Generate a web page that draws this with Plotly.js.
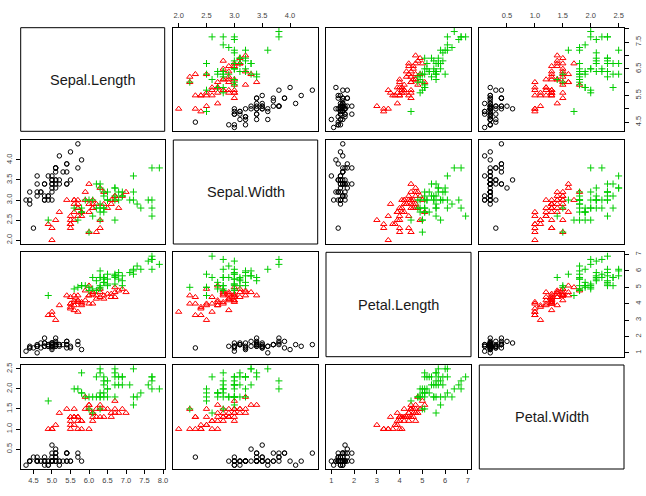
<!DOCTYPE html>
<html>
<head>
<meta charset="utf-8">
<script src="https://cdn.plot.ly/plotly-3.0.1.min.js"></script>
<style>
  html, body { margin: 0; padding: 0; background: #fff; }
  #chart { width: 646px; height: 496px; }
</style>
</head>
<body>
<div id="chart"></div>
<script>
// Edgar Anderson's iris measurements (cm), 50 flowers per species, in species order.
const sepalLength = [
  5.1,4.9,4.7,4.6,5.0,5.4,4.6,5.0,4.4,4.9,5.4,4.8,4.8,4.3,5.8,5.7,5.4,5.1,5.7,5.1,
  5.4,5.1,4.6,5.1,4.8,5.0,5.0,5.2,5.2,4.7,4.8,5.4,5.2,5.5,4.9,5.0,5.5,4.9,4.4,5.1,
  5.0,4.5,4.4,5.0,5.1,4.8,5.1,4.6,5.3,5.0,
  7.0,6.4,6.9,5.5,6.5,5.7,6.3,4.9,6.6,5.2,5.0,5.9,6.0,6.1,5.6,6.7,5.6,5.8,6.2,5.6,
  5.9,6.1,6.3,6.1,6.4,6.6,6.8,6.7,6.0,5.7,5.5,5.5,5.8,6.0,5.4,6.0,6.7,6.3,5.6,5.5,
  5.5,6.1,5.8,5.0,5.6,5.7,5.7,6.2,5.1,5.7,
  6.3,5.8,7.1,6.3,6.5,7.6,4.9,7.3,6.7,7.2,6.5,6.4,6.8,5.7,5.8,6.4,6.5,7.7,7.7,6.0,
  6.9,5.6,7.7,6.3,6.7,7.2,6.2,6.1,6.4,7.2,7.4,7.9,6.4,6.3,6.1,7.7,6.3,6.4,6.0,6.9,
  6.7,6.9,5.8,6.8,6.7,6.7,6.3,6.5,6.2,5.9
];
const sepalWidth = [
  3.5,3.0,3.2,3.1,3.6,3.9,3.4,3.4,2.9,3.1,3.7,3.4,3.0,3.0,4.0,4.4,3.9,3.5,3.8,3.8,
  3.4,3.7,3.6,3.3,3.4,3.0,3.4,3.5,3.4,3.2,3.1,3.4,4.1,4.2,3.1,3.2,3.5,3.6,3.0,3.4,
  3.5,2.3,3.2,3.5,3.8,3.0,3.8,3.2,3.7,3.3,
  3.2,3.2,3.1,2.3,2.8,2.8,3.3,2.4,2.9,2.7,2.0,3.0,2.2,2.9,2.9,3.1,3.0,2.7,2.2,2.5,
  3.2,2.8,2.5,2.8,2.9,3.0,2.8,3.0,2.9,2.6,2.4,2.4,2.7,2.7,3.0,3.4,3.1,2.3,3.0,2.5,
  2.6,3.0,2.6,2.3,2.7,3.0,2.9,2.9,2.5,2.8,
  3.3,2.7,3.0,2.9,3.0,3.0,2.5,2.9,2.5,3.6,3.2,2.7,3.0,2.5,2.8,3.2,3.0,3.8,2.6,2.2,
  3.2,2.8,2.8,2.7,3.3,3.2,2.8,3.0,2.8,3.0,2.8,3.8,2.8,2.8,2.6,3.0,3.4,3.1,3.0,3.1,
  3.1,3.1,2.7,3.2,3.3,3.0,2.5,3.0,3.4,3.0
];
const petalLength = [
  1.4,1.4,1.3,1.5,1.4,1.7,1.4,1.5,1.4,1.5,1.5,1.6,1.4,1.1,1.2,1.5,1.3,1.4,1.7,1.5,
  1.7,1.5,1.0,1.7,1.9,1.6,1.6,1.5,1.4,1.6,1.6,1.5,1.5,1.4,1.5,1.2,1.3,1.4,1.3,1.5,
  1.3,1.3,1.3,1.6,1.9,1.4,1.6,1.4,1.5,1.4,
  4.7,4.5,4.9,4.0,4.6,4.5,4.7,3.3,4.6,3.9,3.5,4.2,4.0,4.7,3.6,4.4,4.5,4.1,4.5,3.9,
  4.8,4.0,4.9,4.7,4.3,4.4,4.8,5.0,4.5,3.5,3.8,3.7,3.9,5.1,4.5,4.5,4.7,4.4,4.1,4.0,
  4.4,4.6,4.0,3.3,4.2,4.2,4.2,4.3,3.0,4.1,
  6.0,5.1,5.9,5.6,5.8,6.6,4.5,6.3,5.8,6.1,5.1,5.3,5.5,5.0,5.1,5.3,5.5,6.7,6.9,5.0,
  5.7,4.9,6.7,4.9,5.7,6.0,4.8,4.9,5.6,5.8,6.1,6.4,5.6,5.1,5.6,6.1,5.6,5.5,4.8,5.4,
  5.6,5.1,5.1,5.9,5.7,5.2,5.0,5.2,5.4,5.1
];
const petalWidth = [
  0.2,0.2,0.2,0.2,0.2,0.4,0.3,0.2,0.2,0.1,0.2,0.2,0.1,0.1,0.2,0.4,0.4,0.3,0.3,0.3,
  0.2,0.4,0.2,0.5,0.2,0.2,0.4,0.2,0.2,0.2,0.2,0.4,0.1,0.2,0.2,0.2,0.2,0.1,0.2,0.2,
  0.3,0.3,0.2,0.6,0.4,0.3,0.2,0.2,0.2,0.2,
  1.4,1.5,1.5,1.3,1.5,1.3,1.6,1.0,1.3,1.4,1.0,1.5,1.0,1.4,1.3,1.4,1.5,1.0,1.5,1.1,
  1.8,1.3,1.5,1.2,1.3,1.4,1.4,1.7,1.5,1.0,1.1,1.0,1.2,1.6,1.5,1.6,1.5,1.3,1.3,1.3,
  1.2,1.4,1.2,1.0,1.3,1.2,1.3,1.3,1.1,1.3,
  2.5,1.9,2.1,1.8,2.2,2.1,1.7,1.8,1.8,2.5,2.0,1.9,2.1,2.0,2.4,2.3,1.8,2.2,2.3,1.5,
  2.3,2.0,2.0,1.8,2.1,1.8,1.8,1.8,2.1,1.6,1.9,2.0,2.2,1.5,1.4,2.3,2.4,1.8,1.8,2.1,
  2.4,2.3,1.9,2.3,2.5,2.3,1.9,2.0,2.3,1.8
];

const variableNames = ['Sepal.Length', 'Sepal.Width', 'Petal.Length', 'Petal.Width'];
const speciesNames = ['setosa', 'versicolor', 'virginica'];
const speciesCounts = [50, 50, 50];

// Tick positions for each variable, and the labels printed on the outer axes.
const tickValues = [
  [4.5, 5.0, 5.5, 6.0, 6.5, 7.0, 7.5, 8.0],
  [2.0, 2.5, 3.0, 3.5, 4.0],
  [1, 2, 3, 4, 5, 6, 7],
  [0.5, 1.0, 1.5, 2.0, 2.5]
];
const xTickText = [
  ['4.5', '5.0', '5.5', '6.0', '6.5', '7.0', '7.5', '8.0'],
  ['2.0', '2.5', '3.0', '3.5', '4.0'],
  ['1', '2', '3', '4', '5', '6', '7'],
  ['0.5', '1.0', '1.5', '2.0', '2.5']
];
const yTickText = [
  ['4.5', '', '5.5', '', '6.5', '', '7.5', ''],
  ['2.0', '2.5', '3.0', '3.5', '4.0'],
  ['1', '2', '3', '4', '5', '6', '7'],
  ['0.5', '1.0', '1.5', '2.0', '2.5']
];

// Point styles: open circle, open triangle, plus.
const speciesStyle = [
  { symbol: 'circle-open',      color: '#000000', size: 4.5 },
  { symbol: 'triangle-up-open', color: '#FF0000', size: 5.5 },
  { symbol: 'cross-thin-open',  color: '#00CD00', size: 5 }
];

const W = 646, H = 496;
const colPx = [[20.7, 164.7], [173.3, 317.7], [326, 471], [479.3, 624]];
const rowPx = [[27.7, 131.3], [140, 244], [252.3, 356.7], [365, 469]];
const colDomain = colPx.map(p => [p[0] / W, p[1] / W]);
const rowDomain = rowPx.map(p => [1 - p[1] / H, 1 - p[0] / H]);

const variables = [sepalLength, sepalWidth, petalLength, petalWidth];
// Each axis spans the data range widened by 4% on both sides.
const ranges = variables.map(v => {
  const lo = Math.min(...v), hi = Math.max(...v), pad = 0.04 * (hi - lo);
  return [lo - pad, hi + pad];
});

function speciesSlices(values) {
  const out = [];
  let start = 0;
  speciesCounts.forEach(n => { out.push(values.slice(start, start + n)); start += n; });
  return out;
}

const traces = [];
const layout = {
  width: W, height: H,
  margin: { l: 0, r: 0, t: 0, b: 0 },
  paper_bgcolor: '#ffffff',
  plot_bgcolor: '#ffffff',
  showlegend: false,
  font: { family: 'Liberation Sans, Arial, sans-serif', color: '#000' },
  shapes: [],
  annotations: []
};

const tickFont = { family: 'Liberation Sans, Arial, sans-serif', size: 7.5, color: '#444' };

for (let r = 0; r < 4; r++) {
  for (let c = 0; c < 4; c++) {
    if (r === c) {
      layout.shapes.push({
        type: 'rect', xref: 'paper', yref: 'paper',
        x0: colDomain[c][0], x1: colDomain[c][1],
        y0: rowDomain[r][0], y1: rowDomain[r][1],
        line: { color: '#000', width: 1 }, fillcolor: 'rgba(0,0,0,0)'
      });
      layout.annotations.push({
        xref: 'paper', yref: 'paper',
        x: (colDomain[c][0] + colDomain[c][1]) / 2,
        y: (rowDomain[r][0] + rowDomain[r][1]) / 2,
        text: variableNames[r], showarrow: false,
        xanchor: 'center', yanchor: 'middle',
        font: { family: 'Liberation Sans, Arial, sans-serif', size: 14.5, color: '#1a1a1a' }
      });
      continue;
    }
    const k = r * 4 + c + 1;
    const xs = speciesSlices(variables[c]);
    const ys = speciesSlices(variables[r]);
    speciesNames.forEach((name, s) => {
      traces.push({
        type: 'scatter', mode: 'markers', name: name,
        x: xs[s], y: ys[s],
        xaxis: 'x' + k, yaxis: 'y' + k,
        marker: {
          symbol: speciesStyle[s].symbol, size: speciesStyle[s].size,
          color: speciesStyle[s].color,
          line: { color: speciesStyle[s].color, width: 1 }
        },
        hoverinfo: 'skip'
      });
    });

    const xTop = r === 0 && c % 2 === 1;
    const xBottom = r === 3 && c % 2 === 0;
    const yLeft = c === 0 && r % 2 === 1;
    const yRight = c === 3 && r % 2 === 0;

    layout['xaxis' + k] = {
      domain: colDomain[c], range: ranges[c], anchor: 'y' + k,
      showline: true, mirror: true, linecolor: '#000', linewidth: 1,
      showgrid: false, zeroline: false, fixedrange: true,
      side: xTop ? 'top' : 'bottom',
      ticks: (xTop || xBottom) ? 'outside' : '',
      ticklen: 4, tickwidth: 1, tickcolor: '#000',
      ticklabelstandoff: xTop ? 2 : 0,
      tickmode: 'array', tickvals: tickValues[c], ticktext: xTickText[c],
      showticklabels: xTop || xBottom, tickfont: tickFont
    };
    layout['yaxis' + k] = {
      domain: rowDomain[r], range: ranges[r], anchor: 'x' + k,
      showline: true, mirror: true, linecolor: '#000', linewidth: 1,
      showgrid: false, zeroline: false, fixedrange: true,
      side: yRight ? 'right' : 'left',
      ticks: (yLeft || yRight) ? 'outside' : '',
      ticklen: 4, tickwidth: 1, tickcolor: '#000',
      ticklabelstandoff: yRight ? 3 : 1,
      tickmode: 'array', tickvals: tickValues[r], ticktext: yTickText[r],
      tickangle: -90,
      showticklabels: yLeft || yRight, tickfont: tickFont
    };
  }
}

Plotly.newPlot('chart', traces, layout, { staticPlot: true, displayModeBar: false });
</script>
</body>
</html>
